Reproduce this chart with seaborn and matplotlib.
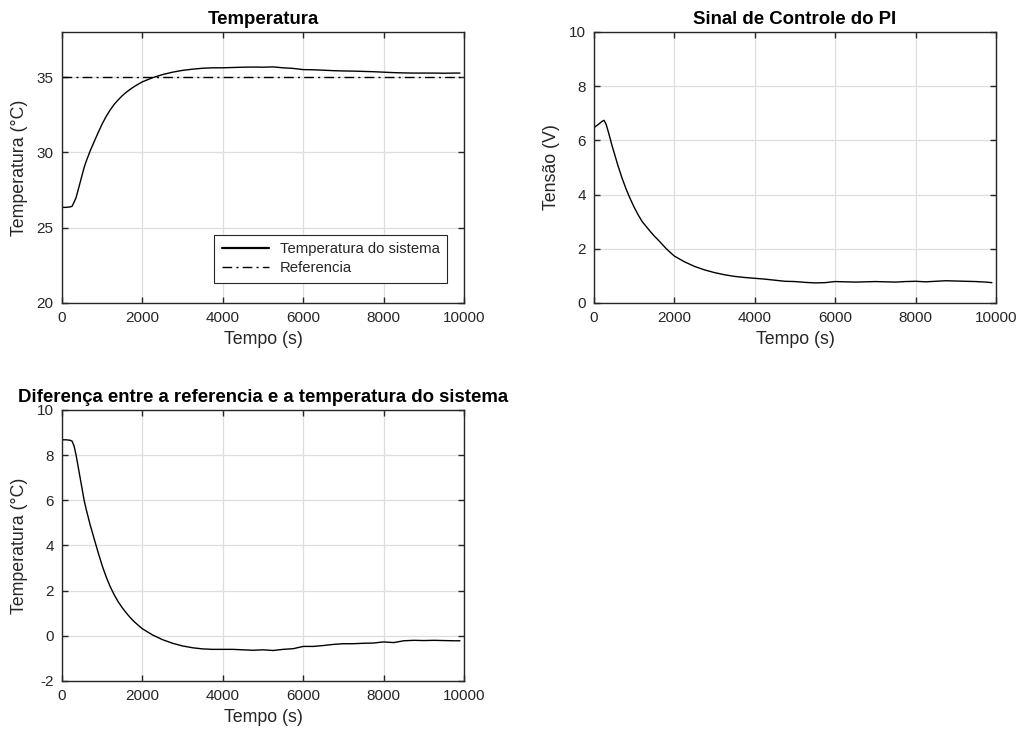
import pandas as pd
import matplotlib
matplotlib.use('Agg')
import matplotlib.pyplot as plt
import seaborn as sns

tempo = [0, 100, 200, 250, 300, 350, 400, 450, 500, 550, 600,
         700, 800, 900, 1000, 1100, 1200, 1300, 1400, 1500, 1600, 1700, 1800, 1900, 2000,
         2250, 2500, 2750, 3000, 3250, 3500, 3750, 4000, 4250, 4500, 4750, 5000,
         5250, 5500, 5750, 6000, 6250, 6500, 6750, 7000, 7250, 7500, 7750, 8000,
         8250, 8500, 8750, 9000, 9250, 9500, 9750, 9900]

temperatura = [26.35, 26.35, 26.38, 26.42, 26.7, 27.0, 27.5, 28.0, 28.5, 29.0, 29.4,
               30.1, 30.72, 31.32, 31.9, 32.4, 32.83, 33.2, 33.5, 33.77, 34.0, 34.2,
               34.38, 34.54, 34.69,
               34.96, 35.17, 35.33, 35.45, 35.53, 35.59, 35.62, 35.62, 35.64, 35.66,
               35.67, 35.66, 35.68, 35.62, 35.58, 35.5, 35.49, 35.46, 35.43, 35.41,
               35.40, 35.38, 35.36, 35.33, 35.30, 35.28, 35.27, 35.27, 35.27, 35.26,
               35.27, 35.27]

referencia = [35.0] * len(tempo)

sinal_pi = [6.47, 6.58, 6.7, 6.74, 6.6, 6.35, 6.08, 5.8, 5.55, 5.3, 5.05,
            4.6, 4.2, 3.85, 3.53, 3.25, 3.0, 2.82, 2.64, 2.47, 2.32, 2.16, 2.0,
            1.86, 1.73,
            1.52, 1.35, 1.22, 1.12, 1.04, 0.98, 0.94, 0.91, 0.88, 0.84, 0.8, 0.79,
            0.76, 0.74, 0.75, 0.79, 0.78, 0.77, 0.78, 0.79, 0.78, 0.77, 0.79, 0.8,
            0.78, 0.8, 0.82, 0.81, 0.8, 0.79, 0.77, 0.75]

erro = [8.68, 8.68, 8.66, 8.62, 8.4, 8.0, 7.5, 7.0, 6.5, 6.0, 5.61,
        4.91, 4.29, 3.68, 3.1, 2.6, 2.17, 1.81, 1.5, 1.24, 1.01, 0.8, 0.62,
        0.46, 0.31,
        0.04, -0.17, -0.33, -0.45, -0.53, -0.58, -0.6, -0.6, -0.6, -0.62, -0.64,
        -0.62, -0.65, -0.6, -0.57, -0.47, -0.47, -0.43, -0.38, -0.35, -0.35,
        -0.33, -0.32, -0.27, -0.3, -0.22, -0.2, -0.21, -0.2, -0.21, -0.22, -0.22]

df = pd.DataFrame({'tempo': tempo, 'temperatura': temperatura,
                   'referencia': referencia, 'sinal': sinal_pi, 'erro': erro})

sns.set_theme(style='whitegrid')
plt.rcParams['font.family'] = ['Liberation Sans', 'DejaVu Sans']
plt.rcParams.update({
    'axes.edgecolor': '#262626',
    'axes.linewidth': 1.0,
    'grid.color': '#dedede',
    'grid.linewidth': 0.9,
    'xtick.direction': 'in',
    'ytick.direction': 'in',
    'xtick.top': True,
    'ytick.right': True,
    'xtick.bottom': True,
    'ytick.left': True,
    'xtick.major.size': 4,
    'ytick.major.size': 4,
    'xtick.major.width': 1.0,
    'ytick.major.width': 1.0,
    'xtick.color': '#262626',
    'ytick.color': '#262626',
    'xtick.labelsize': 11,
    'ytick.labelsize': 11,
    'axes.labelcolor': '#262626',
})

LBL = 12.8
TIT = 13.4
DASH = (7, 3, 1.5, 3)

fig = plt.figure(figsize=(10.22, 7.35), dpi=100)
ax1 = fig.add_axes([0.0607, 0.5878, 0.3933, 0.3687])
ax2 = fig.add_axes([0.5812, 0.5878, 0.3933, 0.3687])
ax3 = fig.add_axes([0.0607, 0.0735, 0.3933, 0.3687])

# —— Temperatura —— #
sns.lineplot(data=df, x='tempo', y='temperatura', ax=ax1, color='black',
             linewidth=1.0, label='Temperatura do sistema')
sns.lineplot(data=df, x='tempo', y='referencia', ax=ax1, color='black',
             linewidth=1.0, label='Referencia')
ax1.lines[1].set_dashes(DASH)
ax1.set_ylim(20, 38)
ax1.set_yticks([20, 25, 30, 35])
ax1.set_ylabel('Temperatura (°C)', fontsize=LBL, labelpad=6)
ax1.set_title('Temperatura', fontsize=TIT, fontweight='bold', pad=6, color='black')
leg = ax1.legend(loc='lower right', bbox_to_anchor=(0.958, 0.074),
                 borderaxespad=0, fontsize=10.7, fancybox=False, framealpha=1,
                 edgecolor='#262626', handlelength=3.2, borderpad=0.5,
                 handletextpad=0.7, labelspacing=0.35)
leg.get_frame().set_linewidth(0.8)
leg.get_lines()[0].set_linewidth(1.6)
leg.get_lines()[1].set_dashes(DASH)

# —— Sinal de controle —— #
sns.lineplot(data=df, x='tempo', y='sinal', ax=ax2, color='black', linewidth=1.0)
ax2.set_ylim(0, 10)
ax2.set_yticks(range(0, 11, 2))
ax2.set_ylabel('Tensão (V)', fontsize=LBL, labelpad=6)
ax2.set_title('Sinal de Controle do PI', fontsize=TIT, fontweight='bold', pad=6,
              color='black')

# —— Diferença —— #
sns.lineplot(data=df, x='tempo', y='erro', ax=ax3, color='black', linewidth=1.0)
ax3.set_ylim(-2, 10)
ax3.set_yticks(range(-2, 11, 2))
ax3.set_yticklabels([str(v) for v in range(-2, 11, 2)])
ax3.set_ylabel('Temperatura (°C)', fontsize=LBL, labelpad=6)
ax3.set_title('Diferença entre a referencia e a temperatura do sistema',
              fontsize=TIT, fontweight='bold', pad=6, color='black')

for ax in (ax1, ax2, ax3):
    ax.set_xlim(0, 10000)
    ax.set_xticks(range(0, 10001, 2000))
    ax.set_xlabel('Tempo (s)', fontsize=LBL, labelpad=4)
    ax.tick_params(pad=6)
    for s in ax.spines.values():
        s.set_color('#262626')

fig.savefig('out.png', dpi=100)
